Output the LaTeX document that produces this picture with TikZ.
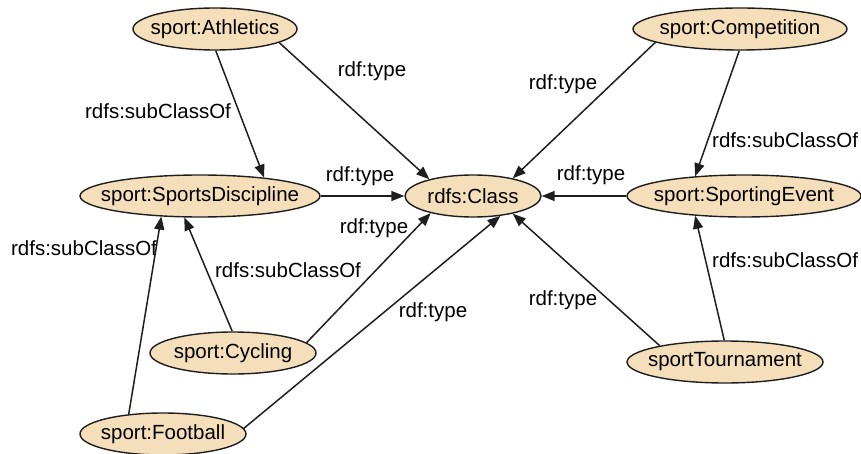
\documentclass[tikz,border=0pt]{standalone}
\usepackage{fontspec}
\setmainfont{Liberation Sans}
\usetikzlibrary{shapes.geometric,arrows.meta}
\definecolor{nodefill}{RGB}{245,223,187}
\definecolor{inkc}{RGB}{30,30,30}
\newcommand{\ztext}[1]{\makebox[0pt]{#1}}
\tikzset{
  cls/.style={ellipse, draw=inkc, line width=1.4pt, fill=nodefill, inner sep=0pt,
    minimum height=42pt, font=\fontsize{20.5}{24}\selectfont, text=black},
  lbl/.style={font=\fontsize{20.5}{24}\selectfont, text=black, inner sep=0pt},
  rel/.style={draw=inkc, line width=1.5pt, -{Triangle[length=13pt,width=10pt]}}
}
\begin{document}
\begin{tikzpicture}[x=1pt,y=-1pt]
\useasboundingbox (0,0) rectangle (861,454);
\node[cls, minimum width=164pt] (ath) at (215,29) {\ztext{sport:Athletics}};
\node[cls, minimum width=214pt] (comp) at (740,29) {\ztext{sport:Competition}};
\node[cls, minimum width=240pt] (sd) at (200,196) {\ztext{sport:SportsDiscipline}};
\node[cls, minimum width=136pt] (rc) at (473,196) {\ztext{rdfs:Class}};
\node[cls, minimum width=234pt] (se) at (744,196) {\ztext{sport:SportingEvent}};
\node[cls, minimum width=166pt] (cyc) at (233,353) {\ztext{sport:Cycling}};
\node[cls, minimum width=196pt] (tour) at (725,362) {\ztext{sportTournament}};
\node[cls, minimum width=166pt] (foot) at (163,434) {\ztext{sport:Football}};

\draw[rel] (ath.-88) -- (sd.16);
\draw[rel] (ath.-12) -- (rc.159);
\draw[rel] (comp.-171) -- (rc.24);
\draw[rel] (comp.-92) -- (se.158);
\draw[rel] (sd.east) -- (rc.west);
\draw[rel] (se.west) -- (rc.east);
\draw[rel] (cyc.92) -- (sd.-126);
\draw[rel] (cyc.8) -- (rc.-158);
\draw[rel] (foot.150) -- (sd.-152);
\draw[rel] (foot.4) -- (rc.-36);
\draw[rel] (tour.92) -- (se.-158);
\draw[rel] (tour.166) -- (rc.-24);

\node[lbl] (l1) at (158,111) {rdfs:subClassOf};
\node[lbl] (l2) at (372,71) {rdf:type};
\node[lbl] (l3) at (563,84) {rdf:type};
\node[lbl, anchor=west] (l4) at (712,140) {rdfs:subClassOf};
\node[lbl] (l5) at (360,176) {rdf:type};
\node[lbl] (l6) at (591,175) {rdf:type};
\node[lbl] (l7) at (288,270) {rdfs:subClassOf};
\node[lbl] (l8) at (374,228) {rdf:type};
\node[lbl] (l9) at (84,248) {rdfs:subClassOf};
\node[lbl] (l10) at (433,312) {rdf:type};
\node[lbl, anchor=west] (l11) at (712,260) {rdfs:subClassOf};
\node[lbl] (l12) at (563,300) {rdf:type};
\end{tikzpicture}
\end{document}
